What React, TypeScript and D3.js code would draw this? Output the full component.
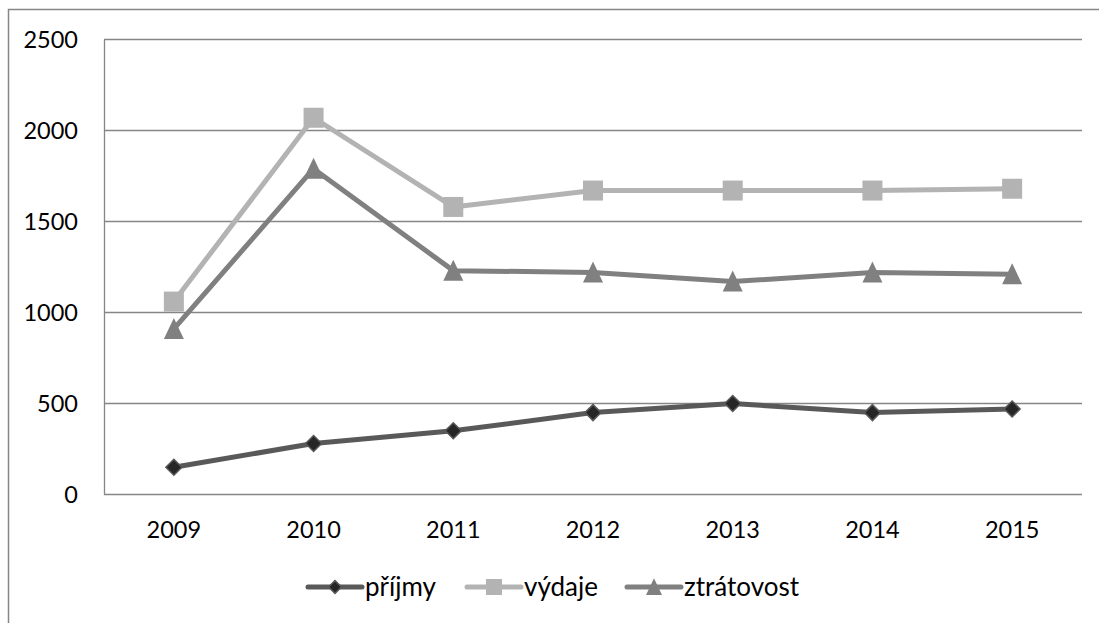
import React from "react";
import * as d3 from "d3";

const years = ["2009", "2010", "2011", "2012", "2013", "2014", "2015"];
const prijmy = [150, 280, 350, 450, 500, 450, 470];
const vydaje = [1060, 2070, 1580, 1670, 1670, 1670, 1680];
const ztratovost = [910, 1790, 1230, 1220, 1170, 1220, 1210];
const yTicks = [0, 500, 1000, 1500, 2000, 2500];

const W = 1099;
const H = 623;
const FONT = "Lato, 'Open Sans', sans-serif";

export default function App() {
  const x = d3.scaleBand().domain(years).range([104, 1082]);
  const y = d3.scaleLinear().domain([0, 2500]).range([494.5, 39.5]);
  const cx = (yr: string) => (x(yr) as number) + x.bandwidth() / 2;
  const line = (vals: number[]) =>
    d3.line<number>().x((_, i) => cx(years[i])).y((v) => y(v))(vals) as string;

  const series = [
    { name: "příjmy", values: prijmy, color: "#595959", fill: "#262626", stroke: "#595959", shape: "diamond", legendX: 308 },
    { name: "výdaje", values: vydaje, color: "#b3b3b3", fill: "#b3b3b3", stroke: "#b3b3b3", shape: "square", legendX: 467 },
    { name: "ztrátovost", values: ztratovost, color: "#808080", fill: "#808080", stroke: "#808080", shape: "triangle", legendX: 627 },
  ];

  const marker = (shape: string, px: number, py: number, fill: string, stroke: string, key: string, scale = 1) => {
    if (shape === "diamond") {
      const r = 8 * scale;
      return <path key={key} d={`M${px},${py - r}L${px + r},${py}L${px},${py + r}L${px - r},${py}Z`} fill={fill} stroke={stroke} strokeWidth={1.5} />;
    }
    if (shape === "square") {
      const s = 10 * scale;
      return <rect key={key} x={px - s} y={py - s} width={2 * s} height={2 * s} fill={fill} />;
    }
    const w = 10 * scale;
    return <path key={key} d={`M${px},${py - 11 * scale}L${px + w},${py + 10 * scale}L${px - w},${py + 10 * scale}Z`} fill={fill} />;
  };

  return (
    <svg width={W} height={H} style={{ position: "absolute", left: 0, top: 0 }}>
      <rect x={0} y={0} width={W} height={H} fill="#ffffff" />
      <path d={`M8.5,${H}V9.5H${W}`} fill="none" stroke="#868686" strokeWidth={1.5} />
      {yTicks.map((t) => (
        <g key={t}>
          {t > 0 && <line x1={104} x2={1082} y1={y(t)} y2={y(t)} stroke="#868686" strokeWidth={1.3} />}
          <text x={78} y={y(t) + 8.5} textAnchor="end" fontFamily={FONT} fontSize={23.5} fill="#000">
            {t}
          </text>
        </g>
      ))}
      <path d={`M104.5,39.5V494.5H1082`} fill="none" stroke="#868686" strokeWidth={1.3} />
      {years.map((yr) => (
        <text key={yr} x={cx(yr)} y={538} textAnchor="middle" fontFamily={FONT} fontSize={23.5} fill="#000">
          {yr}
        </text>
      ))}
      {series.map((s) => (
        <g key={s.name}>
          <path d={line(s.values)} fill="none" stroke={s.color} strokeWidth={5} strokeLinejoin="round" />
          {s.values.map((v, i) => marker(s.shape, cx(years[i]), y(v), s.fill, s.stroke, s.name + i))}
        </g>
      ))}
      {series.map((s) => (
        <g key={"lg" + s.name}>
          <line x1={s.legendX} x2={s.legendX + 54} y1={587} y2={587} stroke={s.color} strokeWidth={5} strokeLinecap="round" />
          {marker(s.shape, s.legendX + 27, 587, s.fill, s.stroke, "lm" + s.name, 0.8)}
          <text x={s.legendX + 57} y={596} fontFamily={FONT} fontSize={26} fill="#000">
            {s.name}
          </text>
        </g>
      ))}
    </svg>
  );
}
